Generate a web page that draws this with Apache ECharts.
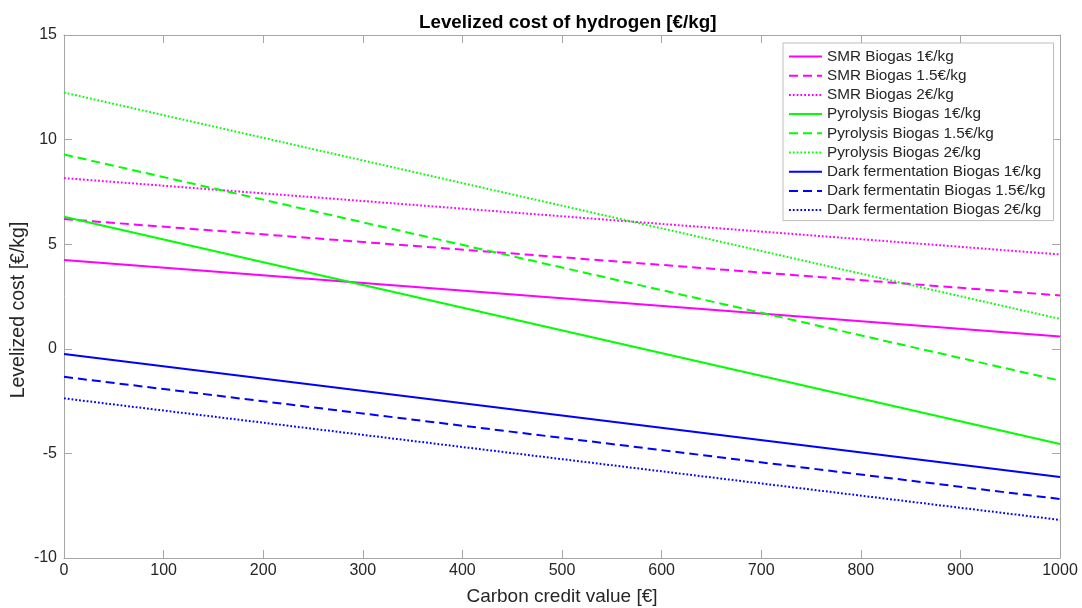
<!DOCTYPE html>
<html>
<head>
<meta charset="utf-8">
<script src="https://cdn.jsdelivr.net/npm/echarts@6/dist/echarts.min.js"></script>
<style>html,body{margin:0;padding:0;background:#fff;}#c{width:1082px;height:608px;}</style>
</head>
<body>
<div id="c"></div>
<script>
// Carbon credit value [€] sampled at the line endpoints
var xValues = [0, 1000];
var seriesNames = [
  'SMR Biogas 1€/kg', 'SMR Biogas 1.5€/kg', 'SMR Biogas 2€/kg',
  'Pyrolysis Biogas 1€/kg', 'Pyrolysis Biogas 1.5€/kg', 'Pyrolysis Biogas 2€/kg',
  'Dark fermentation Biogas 1€/kg', 'Dark fermentatin Biogas 1.5€/kg', 'Dark fermentation Biogas 2€/kg'
];
var smr1 = [4.24, 0.59];
var smr15 = [6.20, 2.55];
var smr2 = [8.16, 4.51];
var pyro1 = [6.31, -4.55];
var pyro15 = [9.29, -1.52];
var pyro2 = [12.25, 1.43];
var df1 = [-0.25, -6.13];
var df15 = [-1.34, -7.18];
var df2 = [-2.37, -8.18];
var xTicks = [0, 100, 200, 300, 400, 500, 600, 700, 800, 900, 1000];
var yTicks = [-10, -5, 0, 5, 10, 15];
var yAxisTitle = 'Levelized cost [€/kg]';

var allValues = [smr1, smr15, smr2, pyro1, pyro15, pyro2, df1, df15, df2];
var colors = ['#ff00ff', '#ff00ff', '#ff00ff', '#00ff00', '#00ff00', '#00ff00', '#0000ff', '#0000ff', '#0000ff'];
var styles = ['solid', [9, 5], [1.8, 2], 'solid', [9, 5], [1.8, 2], 'solid', [9, 5], [1.8, 2]];

var series = allValues.map(function (vals, i) {
  return {
    name: seriesNames[i],
    type: 'line',
    symbol: 'none',
    xAxisIndex: 0,
    yAxisIndex: 0,
    data: xValues.map(function (x, j) { return [x, vals[j]]; }),
    lineStyle: { color: colors[i], width: 2, type: styles[i] },
    itemStyle: { color: colors[i] },
    animation: false
  };
});

var font = 'Liberation Sans, Arial, Helvetica, sans-serif';
var axisGray = '#a6a6a6';
var tickStyle = { show: true, inside: true, length: 8, lineStyle: { color: axisGray } };
var lineStyleAxis = { show: true, onZero: false, lineStyle: { color: axisGray, width: 1 } };
var chart = echarts.init(document.getElementById('c'), null, { renderer: 'canvas' });
chart.setOption({
  animation: false,
  backgroundColor: '#fff',
  title: {
    text: 'Levelized cost of hydrogen [€/kg]',
    left: 414,
    top: 8,
    textStyle: { fontFamily: font, fontSize: 18.8, fontWeight: 'bold', color: '#000' }
  },
  graphic: [{
    type: 'text',
    x: 19,
    y: 310,
    rotation: Math.PI / 2,
    style: {
      text: yAxisTitle,
      fontFamily: font,
      fontSize: 19.5,
      fill: '#262626',
      align: 'center',
      verticalAlign: 'middle'
    }
  }],
  legend: {
    orient: 'vertical',
    left: 783,
    top: 43,
    padding: [6, 8, 3, 5],
    itemWidth: 33,
    itemHeight: 14,
    itemGap: 4.2,
    backgroundColor: '#fff',
    borderColor: '#bdbdbd',
    borderWidth: 1,
    itemStyle: { opacity: 0 },
    textStyle: { fontFamily: font, fontSize: 15.3, color: '#262626' },
    data: seriesNames
  },
  grid: { left: 64, right: 22, top: 35, bottom: 50, containLabel: false, outerBoundsMode: 'none' },
  xAxis: [{
    type: 'value', min: 0, max: 1000, interval: 100, position: 'bottom',
    name: 'Carbon credit value [€]', nameLocation: 'middle', nameGap: 29,
    nameTextStyle: { fontFamily: font, fontSize: 19, color: '#262626' },
    axisLine: lineStyleAxis,
    axisTick: tickStyle,
    axisLabel: { fontFamily: font, fontSize: 16, color: '#262626', margin: 5, formatter: function (v) { return String(v); } },
    splitLine: { show: false }
  }, {
    type: 'value', min: 0, max: 1000, interval: 100, position: 'top',
    axisLine: lineStyleAxis,
    axisTick: tickStyle,
    axisLabel: { show: false },
    splitLine: { show: false }
  }],
  yAxis: [{
    type: 'value', min: -10, max: 15, interval: 5, position: 'left',
    axisLine: lineStyleAxis,
    axisTick: tickStyle,
    axisLabel: { fontFamily: font, fontSize: 16, color: '#262626', margin: 7 },
    splitLine: { show: false }
  }, {
    type: 'value', min: -10, max: 15, interval: 5, position: 'right',
    axisLine: lineStyleAxis,
    axisTick: tickStyle,
    axisLabel: { show: false },
    splitLine: { show: false }
  }],
  series: series
});
</script>
</body>
</html>
